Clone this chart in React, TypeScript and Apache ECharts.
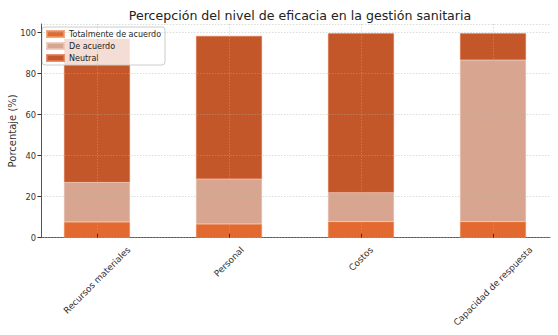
import React, { useEffect, useRef } from "react";
import * as echarts from "echarts";

const categories = ["Recursos materiales", "Personal", "Costos", "Capacidad de respuesta"];
const totalmente = [7.7, 6.7, 7.8, 7.8];
const deAcuerdo = [19.3, 21.9, 14.2, 78.9];
const neutral = [70.0, 69.8, 77.7, 13.0];
const yTicks = [0, 20, 40, 60, 80, 100];

const FONT = "DejaVu Sans";
const TOP = 24;
const BOTTOM = 97.3;
const YMAX = 104.2;
const XFONT = 8.9;

function measure(text: string, size: number): number {
  const c = document.createElement("canvas").getContext("2d");
  if (!c) return text.length * size * 0.6;
  c.font = `${size}px "${FONT}"`;
  return c.measureText(text).width;
}

export default function App() {
  const ref = useRef<HTMLDivElement>(null);
  useEffect(() => {
    if (!ref.current) return;
    const chart = echarts.init(ref.current, null, { renderer: "svg" });
    const grid = "rgba(170,180,160,0.55)";
    const rich: Record<string, any> = {};
    categories.forEach((c, i) => {
      const t = (measure(c, XFONT) + XFONT * 1.17) / 2;
      rich["l" + i] = {
        fontFamily: FONT, fontSize: XFONT, color: "#333",
        padding: [t, t, 0, 0],
      };
    });
    chart.setOption({
      animation: false,
      backgroundColor: "#ffffff",
      textStyle: { fontFamily: FONT },
      title: {
        text: "Percepción del nivel de eficacia en la gestión sanitaria",
        left: 295,
        top: 4,
        textAlign: "center",
        textStyle: { fontFamily: FONT, fontSize: 12.6, fontWeight: "normal", color: "#222" },
      },
      legend: {
        orient: "vertical",
        left: 42,
        top: 27,
        padding: [2, 4, 2, 4],
        itemGap: 2,
        itemWidth: 17,
        itemHeight: 6,
        backgroundColor: "rgba(255,255,255,0.8)",
        borderColor: "#cccccc",
        borderWidth: 1,
        borderRadius: 3,
        icon: "rect",
        textStyle: { fontFamily: FONT, fontSize: 8.0, lineHeight: 10, color: "#222" },
        data: ["Totalmente de acuerdo", "De acuerdo", "Neutral"],
      },
      grid: [
        { left: 31, width: 528, top: TOP, bottom: BOTTOM, outerBoundsMode: "none", containLabel: false },
        { left: 41, width: 509, top: TOP, bottom: BOTTOM, outerBoundsMode: "none", containLabel: false },
        { left: 97, width: 396, top: TOP, bottom: BOTTOM, outerBoundsMode: "none", containLabel: false },
      ],
      xAxis: [
        { type: "category", gridIndex: 0, data: categories, show: false },
        {
          type: "value", gridIndex: 1, min: 0, max: 1,
          axisLine: { show: true, lineStyle: { color: "#555", width: 1 } },
          axisTick: { show: false }, axisLabel: { show: false }, splitLine: { show: false },
        },
        {
          type: "category", gridIndex: 2, data: categories, boundaryGap: false, z: 5,
          axisLine: { show: false },
          axisTick: { show: true, inside: true, length: 4, lineStyle: { color: "#333" } },
          axisLabel: {
            rotate: 45, margin: 7, interval: 0, align: "center", verticalAlign: "middle",
            formatter: (v: string) => `{l${categories.indexOf(v)}|${v}}`,
            rich,
          },
          splitLine: { show: true, lineStyle: { color: grid, type: [1.5, 1.5], width: 0.8 } },
        },
      ],
      yAxis: [
        { type: "value", gridIndex: 0, min: 0, max: YMAX, show: false },
        {
          type: "value", gridIndex: 1, min: 0, max: YMAX, interval: 20, z: 5,
          name: "Porcentaje (%)", nameLocation: "middle", nameGap: 24, nameMoveOverlap: false,
          nameTextStyle: { fontFamily: FONT, fontSize: 10, color: "#333" },
          axisLine: { show: true, lineStyle: { color: "#555", width: 1 } },
          axisTick: { show: true, length: 3.5, lineStyle: { color: "#333" } },
          axisLabel: {
            fontFamily: FONT, fontSize: 8.3, color: "#333", margin: 5, showMaxLabel: false,
            formatter: (v: number) => (yTicks.includes(v) ? String(v) : ""),
          },
          splitLine: { show: true, lineStyle: { color: grid, type: [1.5, 1.5], width: 0.8 } },
        },
        { type: "value", gridIndex: 2, min: 0, max: 1, show: false },
      ],
      series: [
        {
          name: "Totalmente de acuerdo", type: "bar", stack: "a", xAxisIndex: 0, yAxisIndex: 0,
          barWidth: "50%", data: totalmente,
          itemStyle: { color: "#E2692F", borderColor: "rgba(240,150,100,0.8)", borderWidth: 0.5 },
        },
        {
          name: "De acuerdo", type: "bar", stack: "a", xAxisIndex: 0, yAxisIndex: 0,
          barWidth: "50%", data: deAcuerdo,
          itemStyle: { color: "#D8A590", borderColor: "rgba(235,195,180,0.8)", borderWidth: 0.5 },
        },
        {
          name: "Neutral", type: "bar", stack: "a", xAxisIndex: 0, yAxisIndex: 0,
          barWidth: "50%", data: neutral,
          itemStyle: { color: "#C4572A", borderColor: "rgba(225,120,80,0.8)", borderWidth: 0.5 },
        },
      ],
    });
    return () => chart.dispose();
  }, []);
  return (
    <div
      ref={ref}
      style={{ position: "fixed", left: 0, top: 0, width: 558, height: 335 }}
    />
  );
}
